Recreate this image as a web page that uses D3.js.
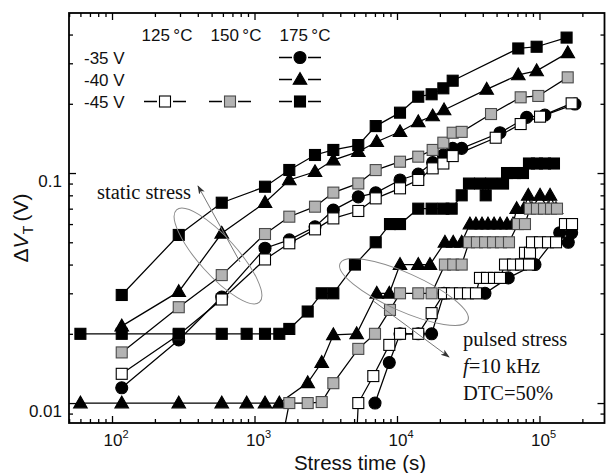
<!DOCTYPE html>
<html><head><meta charset="utf-8">
<script src="https://cdn.jsdelivr.net/npm/d3@7"></script>
<style>body{margin:0;background:#fff}svg{display:block}</style>
</head><body>
<svg id="c" width="606" height="473"></svg>
<script>
// ---------------- DATA ----------------
// static stress
const tS175_35 = [117, 294, 589, 1185, 1755, 2658, 3575, 5350, 7090, 10500, 14100, 17800, 21150, 24600, 28450, 52800, 81300, 109000, 177400];
const vS175_35 = [0.01165, 0.0188, 0.0289, 0.0471, 0.0512, 0.0584, 0.069, 0.0788, 0.082, 0.0933, 0.099, 0.111, 0.1198, 0.128, 0.128, 0.1497, 0.1746, 0.1787, 0.1995];
const tS175_40 = [117, 294, 589, 1185, 1755, 2658, 3575, 5350, 7210, 10500, 14100, 17800, 21400, 42600, 71000, 95500, 158000];
const vS175_40 = [0.0216, 0.0305, 0.0547, 0.0744, 0.0933, 0.1013, 0.1139, 0.1238, 0.1368, 0.1512, 0.167, 0.177, 0.188, 0.231, 0.267, 0.278, 0.333];
const tS175_45 = [117, 294, 589, 1185, 1755, 2658, 3575, 5350, 7090, 10500, 14100, 17500, 21150, 24600, 71000, 95500, 155000];
const vS175_45 = [0.0295, 0.0538, 0.0743, 0.0872, 0.1031, 0.1198, 0.126, 0.1323, 0.160, 0.183, 0.2147, 0.22, 0.2335, 0.252, 0.348, 0.354, 0.388];
const tS150_45 = [117, 294, 589, 1185, 1755, 2658, 3575, 5350, 7090, 10500, 14100, 17800, 21150, 24600, 28450, 45700, 73800, 98100, 157800];
const vS150_45 = [0.0166, 0.0261, 0.036, 0.0543, 0.0646, 0.0714, 0.0822, 0.0901, 0.103, 0.112, 0.1178, 0.126, 0.1355, 0.1497, 0.151, 0.1805, 0.2134, 0.2163, 0.2606];
const tS125_45 = [117, 294, 589, 1185, 1755, 2658, 3575, 5350, 7090, 10500, 14100, 17800, 21150, 24600, 49300, 73800, 100900, 168200];
const vS125_45 = [0.0134, 0.0198, 0.0282, 0.0421, 0.0495, 0.0569, 0.0635, 0.0684, 0.0776, 0.0858, 0.0933, 0.1048, 0.110, 0.1185, 0.1424, 0.1633, 0.1758, 0.2009];
// pulsed stress (f = 10 kHz, DTC = 50%)
const tP175_45 = [60, 117, 294, 589, 881, 1185, 1493, 1755, 2362, 2962, 3575, 5070, 7090, 8930, 10500, 14100, 17500, 21150, 24200, 28450, 32000, 38300, 41930, 45700, 55500, 59200, 67300, 76600, 84400, 96000, 109300, 126400];
const vP175_45 = [0.02, 0.02, 0.02, 0.02, 0.02, 0.02, 0.02, 0.021, 0.025, 0.03, 0.03, 0.04, 0.05, 0.06, 0.06, 0.07, 0.07, 0.07, 0.07, 0.08, 0.09, 0.09, 0.08, 0.09, 0.09, 0.1, 0.1, 0.1, 0.11, 0.11, 0.11, 0.11];
const tP175_40 = [60, 117, 294, 589, 881, 1185, 1493, 2362, 2962, 3575, 5210, 7210, 8830, 10500, 14100, 17040, 21700, 24800, 28450, 32500, 35800, 39500, 43500, 48000, 52900, 59200, 65200, 69200, 77900, 83400, 88600, 100900, 114800, 118600, 130700];
const vP175_40 = [0.01, 0.01, 0.01, 0.01, 0.01, 0.01, 0.01, 0.01225, 0.015, 0.0198, 0.02, 0.03, 0.03, 0.04, 0.04, 0.04, 0.05, 0.05, 0.05, 0.06, 0.06, 0.06, 0.06, 0.06, 0.06, 0.06, 0.06, 0.07, 0.07, 0.08, 0.07, 0.08, 0.07, 0.08, 0.07];
const tP175_35 = [7010, 8830, 10500, 14100, 17500, 21370, 41450, 60400, 93000, 138700, 159300, 168200];
const vP175_35 = [0.01, 0.015, 0.02, 0.02, 0.02, 0.03, 0.03, 0.035, 0.04, 0.055, 0.05, 0.055];
const tP150_45 = [1493, 1755, 2362, 2962, 3575, 5350, 7010, 8930, 10500, 14100, 17500, 21700, 24800, 28450, 32000, 36400, 41500, 47200, 53700, 61100, 70600, 79100, 85700, 96000, 107600, 120500, 132700];
const vP150_45 = [0.006, 0.01, 0.01, 0.0101, 0.0122, 0.0172, 0.02, 0.0254, 0.03, 0.03, 0.03, 0.04, 0.04, 0.04, 0.05, 0.05, 0.05, 0.05, 0.05, 0.05, 0.06, 0.06, 0.07, 0.07, 0.07, 0.07, 0.07];
const tP125_45 = [5070, 5350, 6820, 8830, 10500, 14100, 17500, 21370, 24320, 27680, 31500, 35840, 38230, 42820, 47930, 52840, 57290, 65200, 74200, 79140, 84450, 85780, 88600, 100900, 114800, 130700, 151000, 169200];
const vP125_45 = [0.005, 0.01, 0.0131, 0.0179, 0.02, 0.02, 0.0246, 0.03, 0.03, 0.03, 0.03, 0.03, 0.035, 0.035, 0.035, 0.035, 0.04, 0.04, 0.04, 0.045, 0.04, 0.045, 0.05, 0.05, 0.05, 0.05, 0.06, 0.06];
// axis ticks
const xMajorTicks = [1e2, 1e3, 1e4, 1e5];
const xMajorExp = ["2", "3", "4", "5"];
const yMajorTicks = [0.01, 0.1];
const yMajorLabels = ["0.01", "0.1"];
const legendTemps = ["125\u2009°C", "150\u2009°C", "175\u2009°C"];
const legendVolts = ["-35 V", "-40 V", "-45 V"];

// ---------------- CHART ----------------
const svg = d3.select('#c');
const L = 69, R = 604.5, T = 13, B = 423;
const x = d3.scaleLog().domain([49.9, 2.86e5]).range([L, R]);
const y = d3.scaleLog().domain([0.00819, 0.4963]).range([B, T]);

const styles = {
  black: {fill: '#000', stroke: '#000'},
  gray:  {fill: '#b3b3b3', stroke: '#4a4a4a'},
  white: {fill: '#fff', stroke: '#000'}
};
function zip(t, v) { return t.map((d, i) => ({t: d, v: v[i]})); }
const staticSeries = [
  {d: zip(tS175_35, vS175_35), shape: 'circle', st: 'black'},
  {d: zip(tS125_45, vS125_45), shape: 'square', st: 'white'},
  {d: zip(tS150_45, vS150_45), shape: 'square', st: 'gray'},
  {d: zip(tS175_40, vS175_40), shape: 'triangle', st: 'black'},
  {d: zip(tS175_45, vS175_45), shape: 'square', st: 'black'}
];
const pulsedSeries = [
  {d: zip(tP175_45, vP175_45), shape: 'square', st: 'black'},
  {d: zip(tP175_35, vP175_35), shape: 'circle', st: 'black'},
  {d: zip(tP125_45, vP125_45), shape: 'square', st: 'white'},
  {d: zip(tP175_40, vP175_40), shape: 'triangle', st: 'black'},
  {d: zip(tP150_45, vP150_45), shape: 'square', st: 'gray'}
];
const allSeries = staticSeries.concat(pulsedSeries);

svg.append('defs').append('clipPath').attr('id', 'plot')
  .append('rect').attr('x', L).attr('y', T).attr('width', R - L).attr('height', B - T);

function drawMarker(g, shape, st, px, py) {
  const s = styles[st];
  let el;
  if (shape === 'square') {
    el = g.append('rect').attr('x', px - 5.5).attr('y', py - 5.5).attr('width', 11).attr('height', 11);
  } else if (shape === 'circle') {
    el = g.append('circle').attr('cx', px).attr('cy', py).attr('r', 6);
  } else {
    el = g.append('path').attr('d', `M${px},${py - 7}L${px + 6.8},${py + 4.8}L${px - 6.8},${py + 4.8}Z`);
  }
  el.attr('fill', s.fill).attr('stroke', s.stroke).attr('stroke-width', 1.1);
}

const plot = svg.append('g').attr('clip-path', 'url(#plot)');
const line = d3.line().x(d => x(d.t)).y(d => y(d.v));
const linesG = plot.append('g');
allSeries.forEach(s => {
  linesG.append('path').attr('d', line(s.d)).attr('fill', 'none')
    .attr('stroke', '#000').attr('stroke-width', 1.25);
});
const marksG = plot.append('g');
allSeries.forEach(s => {
  s.d.forEach(p => drawMarker(marksG, s.shape, s.st, x(p.t), y(p.v)));
});

// ---- axes (inward ticks on all four sides) ----
function minorVals(lo, hi) {
  const out = [];
  for (let e = -4; e <= 6; e++) for (let m = 2; m <= 9; m++) {
    const v = m * Math.pow(10, e);
    if (v > lo && v < hi) out.push(v);
  }
  return out;
}
const xMinor = minorVals(x.domain()[0], x.domain()[1]);
const yMinor = minorVals(y.domain()[0], y.domain()[1]);
function axisG(fn, scale, vals, size, tr) {
  svg.append('g').attr('transform', tr).attr('color', '#000')
    .call(fn(scale).tickValues(vals).tickSize(size).tickSizeOuter(0).tickFormat(''))
    .call(g => g.select('.domain').remove())
    .call(g => g.selectAll('line').attr('stroke-width', 1.3));
}
axisG(d3.axisBottom, x, xMajorTicks, -7, `translate(0,${B})`);
axisG(d3.axisBottom, x, xMinor, -4, `translate(0,${B})`);
axisG(d3.axisTop, x, xMajorTicks, -7, `translate(0,${T})`);
axisG(d3.axisTop, x, xMinor, -4, `translate(0,${T})`);
axisG(d3.axisLeft, y, yMajorTicks, -7, `translate(${L},0)`);
axisG(d3.axisLeft, y, yMinor, -4, `translate(${L},0)`);
axisG(d3.axisRight, y, yMajorTicks, -7, `translate(${R},0)`);
axisG(d3.axisRight, y, yMinor, -4, `translate(${R},0)`);

svg.append('rect').attr('x', L).attr('y', T).attr('width', R - L).attr('height', B - T)
  .attr('fill', 'none').attr('stroke', '#000').attr('stroke-width', 1.8);

const sans = "Liberation Sans, Arial, sans-serif";
const serif = "Liberation Serif, Times New Roman, serif";
// x tick labels
xMajorTicks.forEach((v, i) => {
  const t = svg.append('text').attr('x', x(v) - 8.5).attr('y', 445.5)
    .attr('font-family', sans).attr('font-size', 17).attr('fill', '#111');
  t.append('tspan').text('10');
  t.append('tspan').attr('dy', -8).attr('font-size', 11).text(xMajorExp[i]);
});
// y tick labels
yMajorTicks.forEach((v, i) => {
  svg.append('text').attr('x', 62).attr('y', y(v) + 8).attr('dy', '0.35em')
    .attr('text-anchor', 'end').attr('font-family', sans).attr('font-size', 17)
    .attr('fill', '#111').text(yMajorLabels[i]);
});
// axis titles
svg.append('text').attr('x', 360).attr('y', 470).attr('text-anchor', 'middle')
  .attr('font-family', sans).attr('font-size', 20.5).attr('fill', '#111').text('Stress time (s)');
const yt = svg.append('text').attr('transform', 'translate(28,228) rotate(-90)')
  .attr('text-anchor', 'middle').attr('font-family', sans).attr('font-size', 21).attr('fill', '#111');
yt.append('tspan').text('\u0394');
yt.append('tspan').attr('font-style', 'italic').text('V');
yt.append('tspan').attr('font-size', 14).attr('dy', 5).text('T');
yt.append('tspan').attr('dy', -5).text('\u2009(V)');

// ---- legend ----
const lg = svg.append('g').attr('font-family', sans).attr('font-size', 17).attr('fill', '#111');
const colX = [167, 236, 305];
legendTemps.forEach((s, i) => lg.append('text').attr('x', colX[i]).attr('y', 41)
  .attr('text-anchor', 'middle').text(s));
const rowY = [57.5, 79.5, 101.5];
legendVolts.forEach((s, i) => lg.append('text').attr('x', 84).attr('y', rowY[i] + 6).text(s));
function legendItem(cx, cy, shape, st) {
  lg.append('line').attr('x1', cx - 21).attr('x2', cx + 21).attr('y1', cy).attr('y2', cy)
    .attr('stroke', '#000').attr('stroke-width', 1.3);
  lg.append('rect').attr('x', cx - 8).attr('y', cy - 3).attr('width', 16).attr('height', 6).attr('fill', '#fff');
  drawMarker(lg, shape, st, cx, cy);
}
legendItem(300, rowY[0], 'circle', 'black');
legendItem(300, rowY[1], 'triangle', 'black');
legendItem(300, rowY[2], 'square', 'black');
legendItem(165, rowY[2], 'square', 'white');
legendItem(230, rowY[2], 'square', 'gray');

// ---- annotations ----
const defs = svg.select('defs');
defs.append('marker').attr('id', 'ah').attr('viewBox', '0 0 10 10').attr('refX', 9).attr('refY', 5)
  .attr('markerWidth', 9).attr('markerHeight', 9).attr('orient', 'auto')
  .append('path').attr('d', 'M0,1.5L10,5L0,8.5L2.5,5Z').attr('fill', '#333');
const an = svg.append('g');
an.append('ellipse').attr('cx', 0).attr('cy', 0).attr('rx', 62).attr('ry', 19)
  .attr('transform', 'translate(218,256) rotate(48)')
  .attr('fill', 'none').attr('stroke', '#8a8a8a').attr('stroke-width', 1);
an.append('line').attr('x1', 240).attr('y1', 262).attr('x2', 198).attr('y2', 186)
  .attr('stroke', '#777').attr('stroke-width', 1).attr('marker-end', 'url(#ah)');
an.append('ellipse').attr('cx', 0).attr('cy', 0).attr('rx', 70).attr('ry', 19)
  .attr('transform', 'translate(404,292) rotate(24)')
  .attr('fill', 'none').attr('stroke', '#8a8a8a').attr('stroke-width', 1);
an.append('line').attr('x1', 372).attr('y1', 300).attr('x2', 449).attr('y2', 357)
  .attr('stroke', '#777').attr('stroke-width', 1).attr('marker-end', 'url(#ah)');
const tx = svg.append('g').attr('font-family', serif).attr('font-size', 20.5).attr('fill', '#111');
tx.append('text').attr('x', 97).attr('y', 199).text('static stress');
tx.append('text').attr('x', 463).attr('y', 346).text('pulsed stress');
const f = tx.append('text').attr('x', 463).attr('y', 373);
f.append('tspan').attr('font-style', 'italic').text('f');
f.append('tspan').text('=10 kHz');
tx.append('text').attr('x', 463).attr('y', 400).text('DTC=50%');
</script>
</body></html>
